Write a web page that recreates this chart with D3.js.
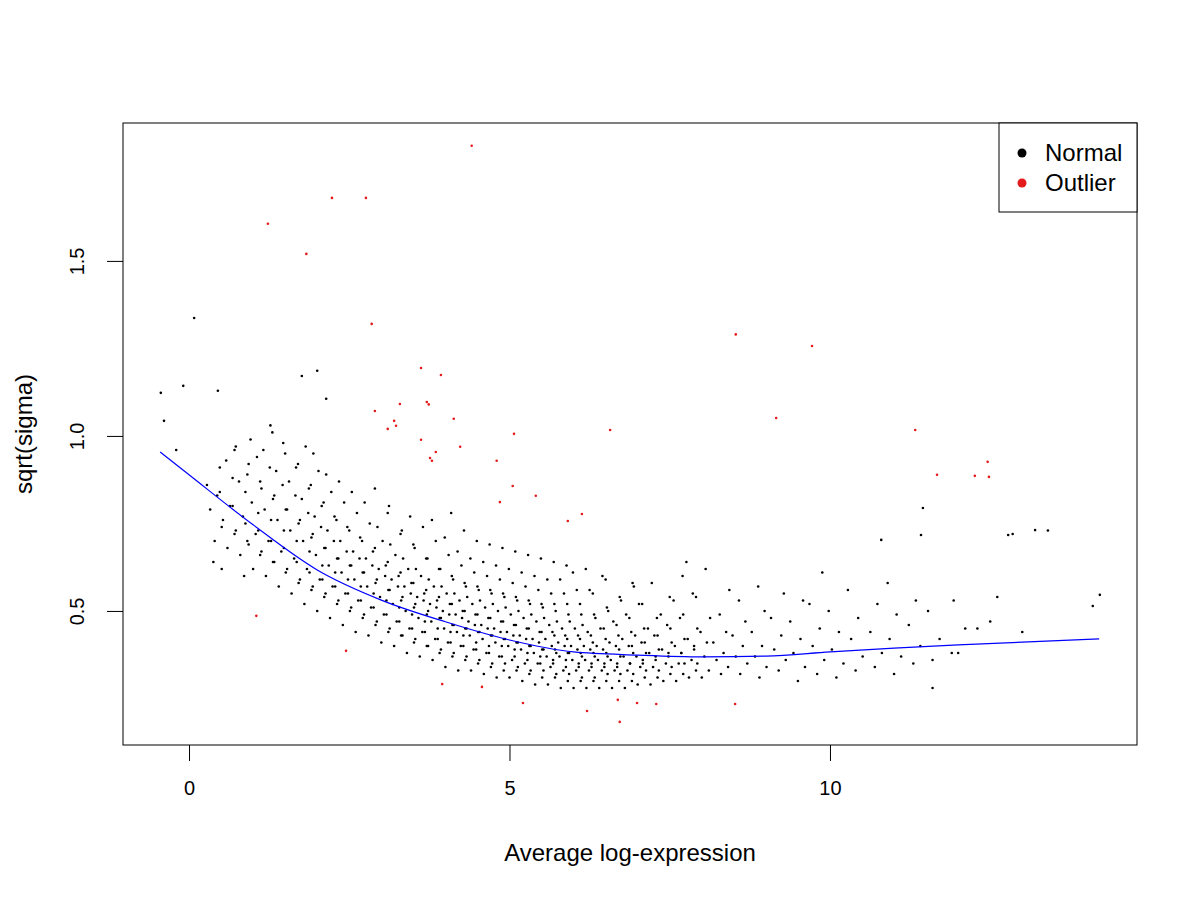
<!DOCTYPE html>
<html>
<head>
<meta charset="utf-8">
<script src="https://cdn.jsdelivr.net/npm/d3@7"></script>
<style>
  body { margin: 0; background: #fff; }
  text { font-family: "Liberation Sans", Arial, sans-serif; }
</style>
</head>
<body>
<div id="container"></div>
<script>
// dense cloud, read by eye: [x column, y values]
const cloud = [
  [0.4, [.70,.74,.79,.83,.86,.91,.64]],
  [0.6, [.68,.72,.76,.80,.84,.88,.93,.97,.62]],
  [0.8, [.66,.70,.73,.77,.80,.84,.87,.92,.96,.60]],
  [1.0, [.62,.66,.69,.72,.75,.78,.81,.85,.89,.94,.99]],
  [1.2, [.60,.64,.67,.70,.73,.76,.79,.83,.87,.91,.96,1.01]],
  [1.4, [.57,.61,.64,.67,.70,.73,.76,.79,.82,.86,.90,.95,1.03]],
  [1.6, [.55,.58,.62,.65,.68,.70,.73,.76,.79,.83,.87,.92,.98]],
  [1.8, [.52,.56,.59,.62,.64,.67,.70,.72,.75,.78,.82,.86,.91,.97]],
  [2.0, [.50,.54,.57,.59,.61,.63,.66,.68,.71,.74,.77,.81,.85,.90,.95]],
  [2.2, [.48,.52,.55,.57,.59,.61,.63,.65,.68,.70,.73,.76,.80,.84,.89]],
  [2.4, [.46,.50,.53,.55,.57,.59,.61,.63,.65,.67,.70,.73,.77,.81,.87]],
  [2.6, [.44,.48,.51,.53,.55,.57,.59,.61,.63,.65,.67,.70,.74,.78,.84]],
  [2.8, [.43,.46,.49,.51,.53,.55,.57,.59,.61,.63,.65,.68,.71,.75,.81]],
  [3.0, [.41,.44,.47,.49,.51,.53,.54,.56,.58,.60,.62,.64,.67,.70,.74,.80,.85]],
  [3.2, [.40,.43,.45,.47,.49,.51,.52,.54,.56,.57,.59,.61,.63,.66,.69,.73,.78]],
  [3.4, [.38,.41,.43,.45,.47,.49,.50,.52,.53,.55,.57,.58,.60,.62,.65,.68,.72,.77]],
  [3.6, [.37,.40,.42,.44,.45,.47,.48,.50,.51,.53,.54,.56,.58,.60,.62,.65,.69,.74]],
  [3.8, [.36,.38,.40,.42,.44,.45,.47,.48,.49,.51,.52,.54,.55,.57,.59,.62,.65,.70,.76]],
  [4.0, [.34,.37,.39,.41,.42,.44,.45,.46,.48,.49,.50,.52,.53,.55,.57,.59,.62,.66,.71,.78]],
  [4.2, [.33,.36,.38,.40,.41,.43,.44,.45,.46,.48,.49,.50,.52,.53,.55,.57,.60,.63,.67,.73]],
  [4.4, [.33,.35,.37,.39,.40,.41,.43,.44,.45,.46,.47,.49,.50,.52,.54,.56,.58,.61,.65,.70]],
  [4.6, [.32,.34,.36,.38,.39,.40,.42,.43,.44,.45,.46,.48,.49,.51,.53,.55,.57,.60,.64,.69]],
  [4.8, [.31,.33,.35,.37,.38,.40,.41,.42,.43,.44,.45,.47,.48,.50,.52,.54,.56,.59,.63,.68]],
  [5.0, [.31,.33,.35,.36,.37,.39,.40,.41,.42,.43,.44,.46,.47,.49,.51,.53,.55,.58,.62,.67]],
  [5.2, [.30,.32,.34,.35,.37,.38,.39,.40,.41,.42,.43,.45,.46,.48,.50,.52,.54,.57,.61,.66]],
  [5.4, [.29,.31,.33,.35,.36,.37,.38,.39,.40,.41,.42,.44,.45,.47,.49,.51,.53,.56,.60,.65]],
  [5.6, [.29,.31,.33,.34,.35,.36,.37,.38,.39,.40,.42,.43,.44,.46,.48,.50,.52,.55,.59,.64]],
  [5.8, [.28,.30,.32,.33,.35,.36,.37,.38,.39,.40,.41,.42,.44,.45,.47,.49,.52,.55,.59,.63]],
  [6.0, [.28,.30,.32,.33,.34,.35,.36,.37,.38,.39,.40,.42,.43,.45,.47,.49,.52,.56,.61]],
  [6.2, [.28,.30,.31,.33,.34,.35,.36,.37,.38,.39,.40,.41,.43,.44,.46,.49,.52,.56,.62]],
  [6.4, [.28,.30,.31,.33,.34,.35,.36,.37,.38,.39,.40,.42,.43,.45,.48,.51,.55,.60]],
  [6.6, [.28,.30,.32,.33,.34,.35,.36,.37,.38,.40,.41,.43,.45,.47,.50,.54,.59]],
  [6.8, [.28,.30,.32,.33,.34,.35,.37,.38,.39,.40,.42,.44,.46,.49,.53,.58]],
  [7.0, [.29,.31,.32,.34,.35,.36,.37,.38,.40,.41,.43,.45,.48,.52,.57]],
  [7.2, [.29,.31,.33,.34,.35,.37,.38,.39,.41,.43,.45,.48,.52,.58]],
  [7.4, [.30,.32,.33,.35,.36,.38,.39,.41,.43,.46,.49,.54]],
  [7.6, [.30,.32,.34,.35,.37,.38,.40,.42,.45,.48,.53,.60]],
  [7.8, [.31,.33,.35,.36,.38,.40,.42,.45,.49,.55,.64]],
  [8.0, [.31,.33,.35,.37,.39,.41,.44,.48,.54,.62]],
  [8.3, [.32,.34,.36,.38,.41,.44,.49,.56]],
  [8.6, [.32,.35,.37,.40,.43,.47,.53]],
  [8.9, [.31,.34,.37,.40,.44,.50,.57]],
  [9.2, [.33,.36,.39,.43,.48,.55]],
  [9.5, [.30,.34,.38,.42,.47,.53]],
  [9.8, [.32,.36,.40,.45,.52,.61]],
  [10.1, [.31,.35,.39,.44,.50]],
  [10.4, [.33,.37,.42,.48,.56]],
  [10.7, [.34,.38,.44,.52]],
  [11.0, [.32,.37,.42,.49]],
  [11.3, [.35,.40,.46,.53]],
  [11.6, [.36,.42,.50]],
  [12.0, [.38,.45,.53]],
  [12.5, [.47,.54]],
  [13.0, [.44]]
];
// x placement inside each column (hand picked, in x units)
const columnOffsets = [0, .11, -.07, .04, -.12, .08, -.02, .13, -.09, .06, -.04, .10, -.13, .02, -.06, .12, -.10, .05, -.01, .09];

// isolated normal points
const sparseX = [-0.44, -0.39, -0.09, 0.08, 0.45, -0.2, 1.76, 2.0, 2.14, 13.2, 12.78, 12.85, 10.8, 11.42, 11.45, 14.21, 14.1, 11.6, 12.3, 11.9, 10.9, 13.4];
const sparseY = [1.123, 1.043, 1.143, 1.337, 1.129, 0.96, 1.171, 1.186, 1.106, 0.731, 0.717, 0.72, 0.703, 0.717, 0.794, 0.546, 0.514, 0.28, 0.45, 0.38, 0.58, 0.73];

// outliers
const outX = [4.41, 1.23, 2.23, 2.76, 1.83, 2.85, 8.53, 9.72, 3.62, 3.93, 3.71, 3.74, 3.29, 2.90, 4.13, 3.20, 3.23, 3.10, 9.16, 5.07, 6.57, 11.33, 3.62, 4.23, 3.85, 3.76, 3.79, 4.80, 11.67, 12.46, 12.26, 12.48, 5.05, 4.85, 5.41, 5.91, 6.13, 1.05, 2.45, 3.95, 4.57, 5.21, 6.21, 6.72, 6.69, 6.99, 7.29, 8.52];
const outY = [1.829, 1.606, 1.68, 1.68, 1.52, 1.32, 1.29, 1.257, 1.194, 1.174, 1.097, 1.09, 1.091, 1.071, 1.049, 1.043, 1.029, 1.02, 1.051, 1.006, 1.017, 1.017, 0.989, 0.969, 0.954, 0.937, 0.929, 0.929, 0.889, 0.926, 0.886, 0.883, 0.857, 0.811, 0.829, 0.757, 0.777, 0.486, 0.386, 0.291, 0.283, 0.237, 0.214, 0.183, 0.246, 0.237, 0.234, 0.234];

// fitted trend
const trendX = [-0.45, 0, 1, 2, 3, 4, 5, 6, 7, 8, 9, 10, 11, 12, 13, 14.2];
const trendY = [0.954, 0.889, 0.746, 0.617, 0.531, 0.469, 0.417, 0.383, 0.374, 0.369, 0.371, 0.383, 0.394, 0.403, 0.411, 0.42];

const xTicks = [0, 5, 10];
const yTicks = [0.5, 1.0, 1.5];

const W = 1200, H = 900;
const plotLeft = 123, plotRight = 1137, plotTop = 123, plotBottom = 745;

const svg = d3.select('#container').append('svg').attr('width', W).attr('height', H);

const x = d3.scaleLinear().domain([-1.03, 14.79]).range([plotLeft, plotRight]);
const y = d3.scaleLinear().domain([0.117, 1.894]).range([plotBottom, plotTop]);

const normal = [];
cloud.forEach(([cx, ys]) => {
  ys.forEach((v, i) => normal.push([cx + columnOffsets[i % columnOffsets.length], v]));
});
sparseX.forEach((v, i) => normal.push([v, sparseY[i]]));

svg.append('g')
  .selectAll('circle')
  .data(normal)
  .enter()
  .append('circle')
  .attr('cx', (d) => x(d[0]))
  .attr('cy', (d) => y(d[1]))
  .attr('r', 1.3)
  .attr('fill', 'black');

svg.append('g')
  .selectAll('circle')
  .data(outX)
  .enter()
  .append('circle')
  .attr('cx', (d) => x(d))
  .attr('cy', (d, i) => y(outY[i]))
  .attr('r', 1.3)
  .attr('fill', '#e41a1c');

const line = d3.line().curve(d3.curveMonotoneX).x((d) => x(d[0])).y((d) => y(d[1]));
svg.append('path')
  .attr('d', line(trendX.map((v, i) => [v, trendY[i]])))
  .attr('fill', 'none')
  .attr('stroke', 'blue')
  .attr('stroke-width', 1.2);

// box
svg.append('rect')
  .attr('x', plotLeft).attr('y', plotTop)
  .attr('width', plotRight - plotLeft).attr('height', plotBottom - plotTop)
  .attr('fill', 'none').attr('stroke', 'black');

// axes
const xAxis = svg.append('g')
  .attr('transform', `translate(0,${plotBottom})`)
  .call(d3.axisBottom(x).tickValues(xTicks).tickSize(16).tickPadding(20));
xAxis.select('.domain').remove();
xAxis.selectAll('text').attr('font-size', 20).attr('fill', 'black').attr('font-family', '"Liberation Sans", Arial, sans-serif');

const yAxis = svg.append('g')
  .attr('transform', `translate(${plotLeft},0)`)
  .call(d3.axisLeft(y).tickValues(yTicks).tickSize(16).tickFormat(d3.format('.1f')));
yAxis.select('.domain').remove();
yAxis.selectAll('.tick text')
  .attr('x', 0).attr('dy', 0)
  .attr('transform', 'translate(-39,0) rotate(-90)')
  .attr('text-anchor', 'middle')
  .attr('font-size', 20).attr('fill', 'black')
  .attr('font-family', '"Liberation Sans", Arial, sans-serif');

svg.append('text')
  .attr('x', (plotLeft + plotRight) / 2).attr('y', 861)
  .attr('text-anchor', 'middle').attr('font-size', 24)
  .text('Average log-expression');

svg.append('text')
  .attr('transform', `translate(32,${(plotTop + plotBottom) / 2}) rotate(-90)`)
  .attr('text-anchor', 'middle').attr('font-size', 24)
  .text('sqrt(sigma)');

// legend
const legend = svg.append('g');
legend.append('rect')
  .attr('x', 999).attr('y', plotTop).attr('width', plotRight - 999).attr('height', 89)
  .attr('fill', 'white').attr('stroke', 'black');
const legendItems = [['Normal', 'black'], ['Outlier', '#e41a1c']];
legendItems.forEach(([label, color], i) => {
  legend.append('circle').attr('cx', 1022).attr('cy', 153 + i * 30).attr('r', 4.5).attr('fill', color);
  legend.append('text').attr('x', 1045).attr('y', 161 + i * 30).attr('font-size', 24).text(label);
});
</script>
</body>
</html>
